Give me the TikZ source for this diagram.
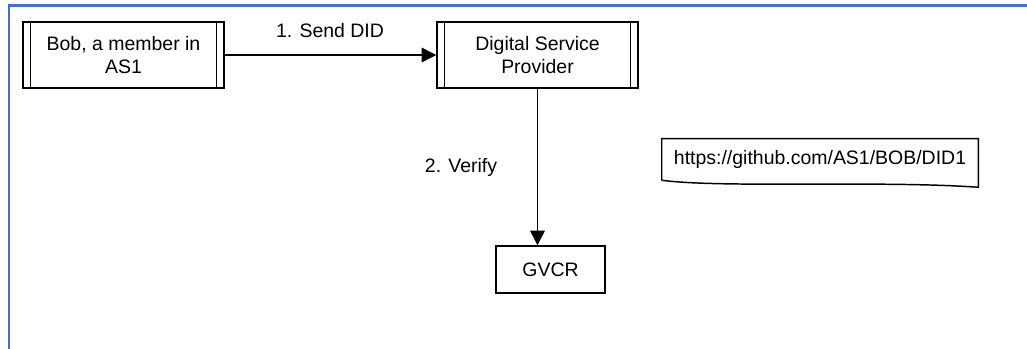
\documentclass[tikz,border=0pt]{standalone}
\usepackage{fontspec}
\setmainfont{Liberation Sans}
\usetikzlibrary{arrows.meta,positioning}
\definecolor{frameblue}{RGB}{68,114,196}

\begin{document}
\begin{tikzpicture}[x=0.75pt,y=-0.75pt,
	every node/.style={font=\fontsize{14.6}{17.2}\selectfont},
	proc/.style={draw, line width=1.1pt, minimum width=150.75pt, minimum height=49.5pt, align=center,
		path picture={\draw[line width=1.1pt]
			([xshift=5.6pt]path picture bounding box.north west) -- ([xshift=5.6pt]path picture bounding box.south west)
			([xshift=-5.6pt]path picture bounding box.north east) -- ([xshift=-5.6pt]path picture bounding box.south east);}},
	box/.style={draw, line width=1.1pt, minimum width=81.75pt, minimum height=35.25pt},
	link/.style={line width=1.1pt, -{Triangle[length=11pt,width=11pt]}}]
	\useasboundingbox (0,0) rectangle (1027,349);
	% Frame
	\draw[frameblue, line width=2pt] (1027,5.5) -- (9,5.5) -- (9,349);
	% Actors
	\node[proc] (bob) at (123.5,55) {Bob, a member in\\AS1};
	\node[proc] (dsp) at (537.5,55) {Digital Service\\Provider};
	\node[box] (gvcr) at (550.5,269.5) {GVCR};
	% Document
	\node[minimum width=237pt, minimum height=30.75pt] (url) at (820,159.5) {https://github.com/AS1/BOB/DID1};
	\draw[line width=1.1pt] (url.south west) -- (url.north west) -- (url.north east) -- ([yshift=-5.25pt]url.south east)
		.. controls ([shift={(-98,0)}]url.south east) and ([shift={(60,8)}]url.south west) .. (url.south west);
	% Connections
	\draw[link] (bob) -- (dsp);
	\draw[link] (dsp.south) -- (dsp.south |- gvcr.north);
	% Labels
	\node (sendlbl) at (330,31) {1. Send DID};
	\node (verifylbl) at (461,167) {2. Verify};
\end{tikzpicture}
\end{document}
